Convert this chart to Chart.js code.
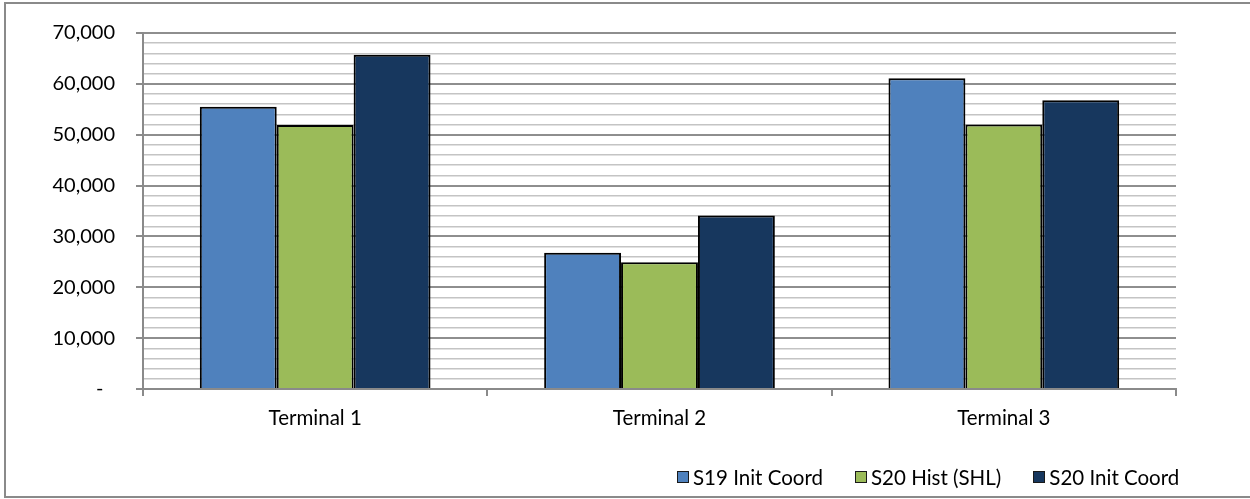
<!DOCTYPE html>
<html>
<head>
<meta charset="utf-8">
<script src="https://cdn.jsdelivr.net/npm/chart.js@4/dist/chart.umd.min.js"></script>
<style>
  html, body { margin: 0; padding: 0; background: #fff; overflow: hidden; }
  #wrap { position: relative; width: 1250px; height: 499px; }
  #frame { position: absolute; left: 4px; top: 2px; width: 1300px; height: 496px; border: 2px solid #8a8a8a; box-sizing: border-box; }
  #chart { position: absolute; left: 0; top: 0; }
  #legend { position: absolute; top: 465px; left: 677px; display: flex; gap: 32px; font-family: Lato, sans-serif; font-size: 20.5px; line-height: 24px; color: #000; white-space: nowrap; }
  #legend .item { display: flex; align-items: center; }
  #legend .box { width: 12px; height: 12px; border: 1px solid #1a1a1a; box-sizing: border-box; margin-right: 4px; }
</style>
</head>
<body>
<div id="wrap">
  <div id="frame"></div>
  <canvas id="chart" width="1250" height="499"></canvas>
  <div id="legend"></div>
</div>
<script>
const categories = ['Terminal 1', 'Terminal 2', 'Terminal 3'];
const seriesNames = ['S19 Init Coord', 'S20 Hist (SHL)', 'S20 Init Coord'];
const s19InitCoord = [55500, 26800, 61100];
const s20HistShl = [51900, 24900, 52000];
const s20InitCoord = [65700, 34100, 56800];
const seriesColors = ['#4F81BD', '#9BBB59', '#17375E'];
const yTickLabels = ['-\u2007', '10,000', '20,000', '30,000', '40,000', '50,000', '60,000', '70,000'];

const seriesValues = [s19InitCoord, s20HistShl, s20InitCoord];

// legend in html so the box/text spacing matches
const legend = document.getElementById('legend');
seriesNames.forEach((name, i) => {
    const item = document.createElement('div');
    item.className = 'item';
    const box = document.createElement('span');
    box.className = 'box';
    box.style.background = seriesColors[i];
    const txt = document.createElement('span');
    txt.textContent = name;
    item.appendChild(box);
    item.appendChild(txt);
    legend.appendChild(item);
});

const isMajor = (v) => v % 10000 === 0;

new Chart(document.getElementById('chart'), {
    type: 'bar',
    data: {
        labels: categories,
        datasets: seriesNames.map((name, i) => ({
            label: name,
            data: seriesValues[i],
            backgroundColor: seriesColors[i],
            borderColor: '#000',
            borderWidth: 2,
            categoryPercentage: 0.67,
            barPercentage: 1
        }))
    },
    options: {
        responsive: false,
        animation: false,
        layout: { padding: { top: 28, right: 74, bottom: 0, left: 0 } },
        plugins: {
            legend: { display: false },
            tooltip: { enabled: false }
        },
        scales: {
            x: {
                grid: {
                    offset: true,
                    drawOnChartArea: false,
                    drawTicks: true,
                    tickLength: 7,
                    color: '#8a8a8a',
                    lineWidth: 2
                },
                border: { color: '#8a8a8a', width: 2 },
                ticks: {
                    color: '#000',
                    font: { family: 'Lato', size: 20.5 },
                    padding: 10,
                    maxRotation: 0
                },
                afterFit: (s) => { s.height = 110; }
            },
            y: {
                min: 0,
                max: 70000,
                ticks: {
                    stepSize: 2000,
                    autoSkip: false,
                    color: '#000',
                    font: { family: 'Lato', size: 20 },
                    padding: 21,
                    callback: (v) => isMajor(v) ? yTickLabels[v / 10000] : ''
                },
                grid: {
                    color: (ctx) => isMajor(ctx.tick.value) ? '#8e8e8e' : '#c4c4c4',
                    lineWidth: (ctx) => isMajor(ctx.tick.value) ? 2 : 1.5,
                    tickColor: (ctx) => isMajor(ctx.tick.value) ? '#8a8a8a' : 'rgba(0,0,0,0)',
                    tickLength: 7
                },
                border: { color: '#8a8a8a', width: 2 },
                afterFit: (s) => { s.width = 143; }
            }
        }
    }
});
</script>
</body>
</html>
